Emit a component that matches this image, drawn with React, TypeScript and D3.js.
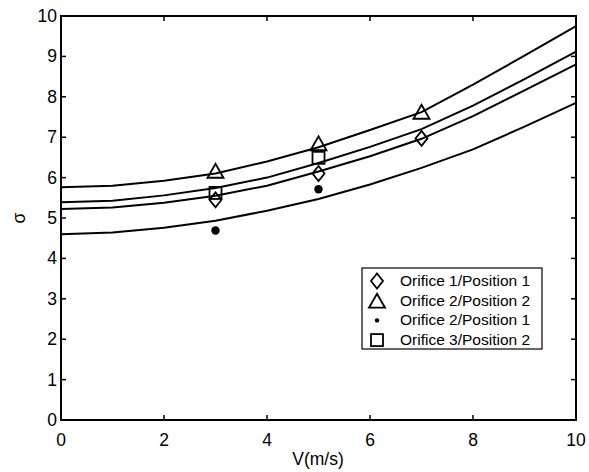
import React from "react";
import * as d3 from "d3";

const V = [0, 1, 2, 3, 4, 5, 6, 7, 8, 9, 10];
const curveA = [5.76, 5.8, 5.92, 6.1, 6.4, 6.75, 7.18, 7.62, 8.3, 9.02, 9.75];
const curveB = [5.39, 5.43, 5.56, 5.74, 6.0, 6.36, 6.76, 7.2, 7.78, 8.44, 9.12];
const curveC = [5.22, 5.26, 5.38, 5.55, 5.8, 6.15, 6.53, 6.96, 7.52, 8.16, 8.8];
const curveD = [4.6, 4.64, 4.76, 4.93, 5.18, 5.47, 5.83, 6.24, 6.7, 7.26, 7.85];

const o1p1V = [3, 5, 7];
const o1p1S = [5.45, 6.1, 6.97];
const o2p2V = [3, 5, 7];
const o2p2S = [6.17, 6.85, 7.63];
const o2p1V = [3, 5];
const o2p1S = [4.69, 5.71];
const o3p2V = [3, 5];
const o3p2S = [5.62, 6.49];

const xTicks = [0, 2, 4, 6, 8, 10];
const yTicks = [0, 1, 2, 3, 4, 5, 6, 7, 8, 9, 10];
const legendLabels = [
  "Orifice 1/Position 1",
  "Orifice 2/Position 2",
  "Orifice 2/Position 1",
  "Orifice 3/Position 2",
];

const W = 589;
const H = 472;
const L = 61, R = 576, T = 16, B = 420;
const FONT = "'Liberation Sans', Arial, sans-serif";
const TICK_FS = 17.5;

function Diamond({ x, y }: { x: number; y: number }) {
  const w = 6, h = 7.5;
  return (
    <path
      d={`M${x},${y - h}L${x + w},${y}L${x},${y + h}L${x - w},${y}Z`}
      fill="none"
      stroke="#000"
      strokeWidth={1.8}
    />
  );
}
function Triangle({ x, y }: { x: number; y: number }) {
  const w = 8, h = 7;
  return (
    <path
      d={`M${x},${y - h}L${x + w},${y + h}L${x - w},${y + h}Z`}
      fill="none"
      stroke="#000"
      strokeWidth={1.8}
    />
  );
}
function Square({ x, y }: { x: number; y: number }) {
  const s = 6;
  return (
    <rect x={x - s} y={y - s} width={2 * s} height={2 * s} fill="none" stroke="#000" strokeWidth={1.8} />
  );
}
function Dot({ x, y, r }: { x: number; y: number; r: number }) {
  return <circle cx={x} cy={y} r={r} fill="#000" />;
}

export default function App() {
  const x = d3.scaleLinear().domain([0, 10]).range([L, R]);
  const y = d3.scaleLinear().domain([0, 10]).range([B, T]);
  const line = d3
    .line<number>()
    .x((_, i) => x(V[i]))
    .y((d) => y(d));
  const curves = [curveA, curveB, curveC, curveD];

  const lgX = 362, lgY = 268, lgW = 180, lgH = 81;
  const rowY = (i: number) => lgY + 13 + i * 19.7;

  return (
    <svg
      width={W}
      height={H}
      style={{ position: "absolute", left: 0, top: 0, background: "#fff" }}
      fontFamily={FONT}
    >
      <rect x={0} y={0} width={W} height={H} fill="#fff" />
      {curves.map((c, i) => (
        <path key={i} d={line(c) || ""} fill="none" stroke="#000" strokeWidth={2} />
      ))}
      {o1p1V.map((v, i) => (
        <Diamond key={"d" + i} x={x(v)} y={y(o1p1S[i])} />
      ))}
      {o2p2V.map((v, i) => (
        <Triangle key={"t" + i} x={x(v)} y={y(o2p2S[i])} />
      ))}
      {o2p1V.map((v, i) => (
        <Dot key={"o" + i} x={x(v)} y={y(o2p1S[i])} r={4.2} />
      ))}
      {o3p2V.map((v, i) => (
        <Square key={"s" + i} x={x(v)} y={y(o3p2S[i])} />
      ))}

      {/* axes box */}
      <rect x={L} y={T} width={R - L} height={B - T} fill="none" stroke="#000" strokeWidth={2} />
      {xTicks.map((t) => (
        <g key={"xt" + t}>
          <line x1={x(t)} x2={x(t)} y1={B} y2={B - 5} stroke="#000" strokeWidth={1.5} />
          <line x1={x(t)} x2={x(t)} y1={T} y2={T + 5} stroke="#000" strokeWidth={1.5} />
          <text x={x(t)} y={B + 26} textAnchor="middle" fontSize={TICK_FS}>
            {t}
          </text>
        </g>
      ))}
      {yTicks.map((t) => (
        <g key={"yt" + t}>
          <line x1={L} x2={L + 5} y1={y(t)} y2={y(t)} stroke="#000" strokeWidth={1.5} />
          <line x1={R} x2={R - 5} y1={y(t)} y2={y(t)} stroke="#000" strokeWidth={1.5} />
          <text x={L - 4} y={y(t) + 6} textAnchor="end" fontSize={TICK_FS}>
            {t}
          </text>
        </g>
      ))}
      <text x={318} y={B + 45} textAnchor="middle" fontSize={TICK_FS}>
        V(m/s)
      </text>
      <text transform={`translate(25,${y(5)}) rotate(-90)`} textAnchor="middle" fontSize={TICK_FS}>
        σ
      </text>

      {/* legend */}
      <rect x={lgX} y={lgY} width={lgW} height={lgH} fill="#fff" stroke="#000" strokeWidth={1.2} />
      <Diamond x={377} y={rowY(0)} />
      <Triangle x={377} y={rowY(1)} />
      <Dot x={377} y={rowY(2)} r={2.2} />
      <Square x={377} y={rowY(3)} />
      {legendLabels.map((s, i) => (
        <text key={s} x={400} y={rowY(i) + 5} fontSize={15.5}>
          {s}
        </text>
      ))}
    </svg>
  );
}
